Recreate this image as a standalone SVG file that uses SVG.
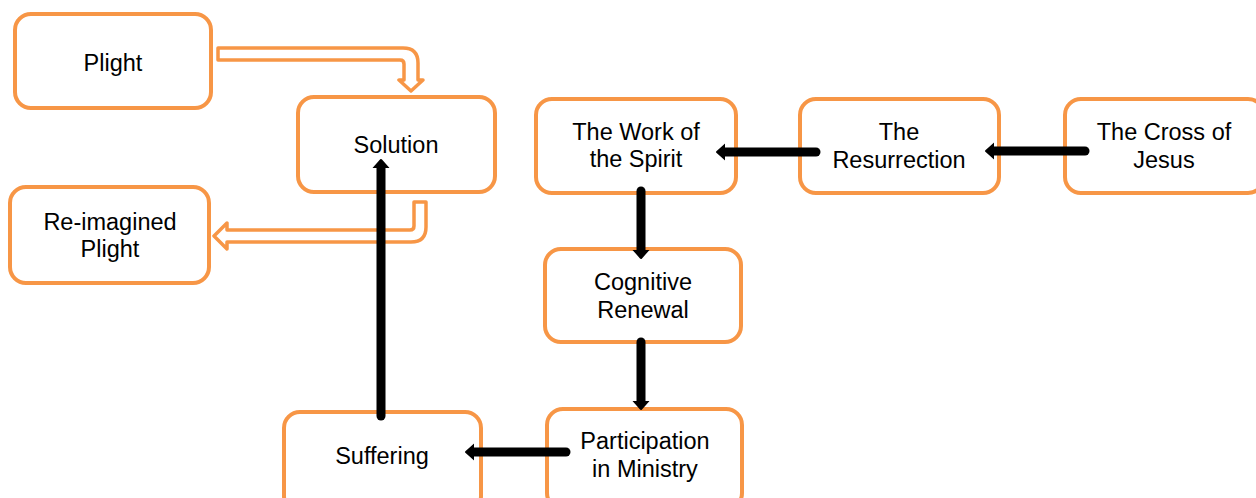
<svg xmlns="http://www.w3.org/2000/svg" width="1256" height="498" viewBox="0 0 1256 498">
  <style>
    .box { fill: #ffffff; stroke: #F79646; stroke-width: 4; }
    .lbl { font-family: "Liberation Sans", Arial, sans-serif; font-size: 23.5px; fill: #000000; text-anchor: middle; }
    .flow { fill: none; stroke: #000000; stroke-width: 9; stroke-linecap: round; marker-end: url(#head); }
    .block { fill: #ffffff; stroke: #F79646; stroke-width: 3.5; stroke-linejoin: round; }
  </style>
  <defs>
    <marker id="head" viewBox="0 0 10 10" refX="0" refY="5" markerWidth="1" markerHeight="1.9" preserveAspectRatio="none" orient="auto">
      <path d="M0,0.6 L9.4,5 L0,9.4 Z" fill="#000000" stroke="#000000" stroke-width="1" stroke-linejoin="round"/>
    </marker>
  </defs>
  <rect width="1256" height="498" fill="#ffffff"/>

  <!-- hollow orange block arrows -->
  <g id="block-arrows">
    <path class="block" d="M218,48 L403,48 Q418,48 418,63 L418,80 L423,80 L411,91 L399,80 L404,80 L404,64 Q404,60 400,60 L218,60 Z"/>
    <path class="block" d="M414,202 L426,202 L426,227 Q426,242 411,242 L227,242 L227,249 L214,236 L227,223 L227,230 L410,230 Q414,230 414,226 Z"/>
  </g>

  <g id="plight">
    <rect class="box" x="15" y="14" width="196" height="94" rx="16"/>
    <text class="lbl" x="113" y="71">Plight</text>
  </g>
  <g id="solution">
    <rect class="box" x="298" y="97" width="197" height="95" rx="16"/>
    <text class="lbl" x="396" y="153">Solution</text>
  </g>
  <g id="reimagined-plight">
    <rect class="box" x="10" y="187" width="199" height="96" rx="16"/>
    <text class="lbl" x="110" y="230">Re-imagined</text>
    <text class="lbl" x="110" y="257">Plight</text>
  </g>
  <g id="work-of-spirit">
    <rect class="box" x="536" y="99" width="200" height="94" rx="16"/>
    <text class="lbl" x="636" y="140">The Work of</text>
    <text class="lbl" x="636" y="167">the Spirit</text>
  </g>
  <g id="resurrection">
    <rect class="box" x="800" y="99" width="199" height="94" rx="16"/>
    <text class="lbl" x="899" y="140">The</text>
    <text class="lbl" x="899" y="168">Resurrection</text>
  </g>
  <g id="cross-of-jesus">
    <rect class="box" x="1065" y="99" width="199" height="94" rx="16"/>
    <text class="lbl" x="1164" y="140">The Cross of</text>
    <text class="lbl" x="1164" y="168">Jesus</text>
  </g>
  <g id="cognitive-renewal">
    <rect class="box" x="545" y="249" width="196" height="93" rx="16"/>
    <text class="lbl" x="643" y="290">Cognitive</text>
    <text class="lbl" x="643" y="318">Renewal</text>
  </g>
  <g id="participation">
    <rect class="box" x="547" y="409" width="195" height="100" rx="16"/>
    <text class="lbl" x="645" y="449">Participation</text>
    <text class="lbl" x="645" y="477">in Ministry</text>
  </g>
  <g id="suffering">
    <rect class="box" x="284" y="412" width="197" height="100" rx="16"/>
    <text class="lbl" x="382" y="464">Suffering</text>
  </g>

  <!-- black flow connectors -->
  <g id="connectors">
    <path class="flow" d="M1085,151 L994,151"/>
    <path class="flow" d="M816,152 L725,152"/>
    <path class="flow" d="M641,191 L641,250"/>
    <path class="flow" d="M641,342 L641,401"/>
    <path class="flow" d="M566,452 L474,452"/>
    <path class="flow" d="M381,416 L381,168"/>
  </g>
</svg>
